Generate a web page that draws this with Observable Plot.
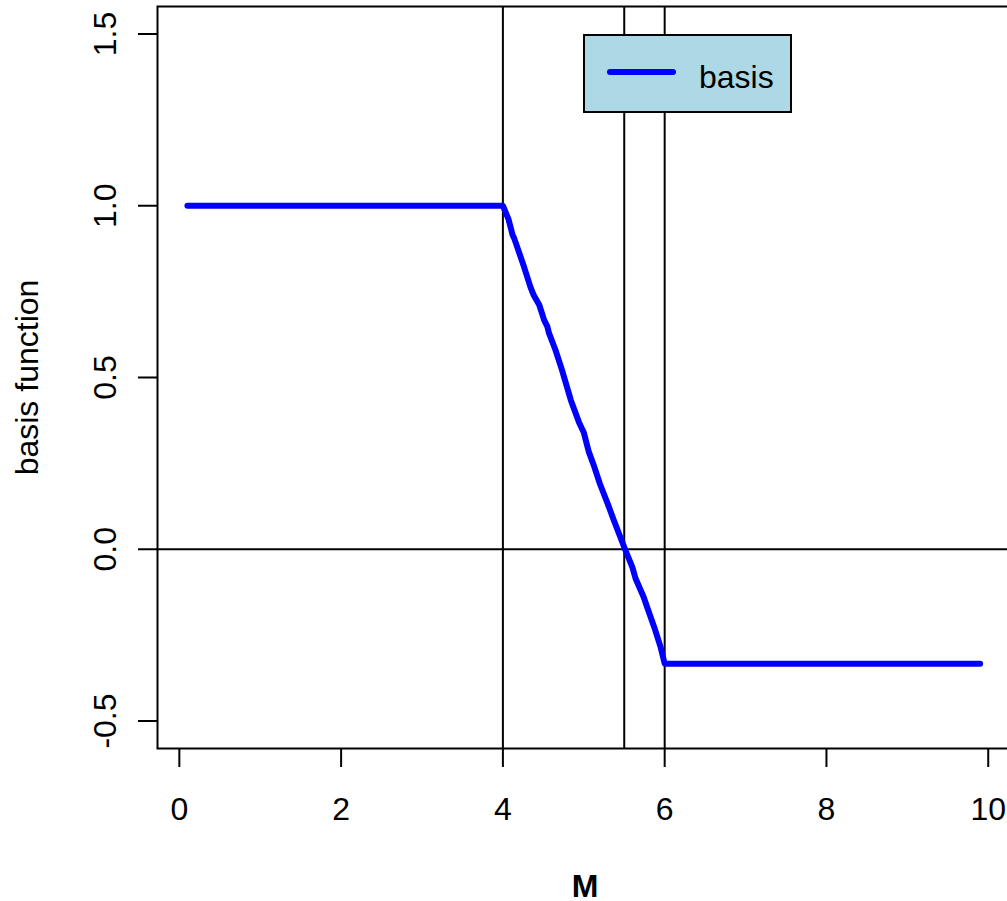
<!DOCTYPE html>
<html><head><meta charset="utf-8">
<script src="https://cdn.jsdelivr.net/npm/d3@7"></script>
<script src="https://cdn.jsdelivr.net/npm/@observablehq/plot@0.6"></script>
<style>html,body{margin:0;padding:0;overflow:hidden;background:#fff;width:1007px;height:901px}
#chart svg{max-width:none !important;}</style>
</head><body><div id="chart"></div>
<script>
// basis function samples
const xVals = [0.1, 4.0, 4.07, 4.12, 4.14, 4.26, 4.34, 4.38, 4.45, 4.51, 4.55, 4.57, 4.65, 4.73, 4.84, 4.94, 5.0, 5.06, 5.13, 5.2, 5.3, 5.37, 5.51, 5.6, 5.64, 5.74, 5.79, 5.87, 5.95, 6.0, 9.9];
const yVals = [1, 1, 0.96, 0.915, 0.905, 0.823, 0.764, 0.74, 0.711, 0.667, 0.648, 0.629, 0.58, 0.522, 0.434, 0.37, 0.34, 0.285, 0.24, 0.19, 0.13, 0.085, 0, -0.052, -0.085, -0.139, -0.173, -0.226, -0.285, -0.333, -0.333];
const knots = [4, 5.5, 6];
const hLines = [0];
const xTicks = [0, 2, 4, 6, 8, 10];
const xTickLabels = ["0", "2", "4", "6", "8", "10"];
const yTicks = [-0.5, 0, 0.5, 1, 1.5];
const yTickLabels = ["-0.5", "0.0", "0.5", "1.0", "1.5"];
const legendLabels = ["basis"];
const xLabel = "M";
const yLabel = "basis function";

const data = xVals.map((x, i) => ({x, y: yVals[i]}));
const FONT = "'Liberation Sans', Arial, Helvetica, sans-serif";

const chart = Plot.plot({
  width: 1015, height: 901,
  marginLeft: 157, marginRight: 3, marginTop: 6, marginBottom: 153,
  style: {fontFamily: FONT, fontSize: "32px", background: "#fff", color: "#000", maxWidth: "none"},
  x: {domain: [-0.27, 10.3]},
  y: {domain: [-0.58, 1.58]},
  marks: [
    Plot.ruleX(knots, {stroke: "#000", strokeWidth: 2}),
    Plot.ruleY(hLines, {stroke: "#000", strokeWidth: 2}),
    Plot.line(data, {x: "x", y: "y", stroke: "#0000FF", strokeWidth: 6, strokeLinecap: "round", strokeLinejoin: "round"}),
    Plot.frame({stroke: "#000", strokeWidth: 2}),
    Plot.axisX({ticks: xTicks, tickSize: 19, tickPadding: 30, fontSize: 32, strokeWidth: 2,
      tickFormat: d => xTickLabels[xTicks.indexOf(d)], label: null}),
    Plot.axisY({ticks: yTicks, tickSize: 19, strokeWidth: 2, tickFormat: () => "", label: null}),
    Plot.text(yTicks, {y: d => d, text: (d, i) => yTickLabels[i], frameAnchor: "left", dx: -42,
      rotate: -90, lineAnchor: "bottom", textAnchor: "middle", fontSize: 32}),
    Plot.text([yLabel], {text: d => d, frameAnchor: "left", dx: -120, rotate: -90,
      lineAnchor: "bottom", textAnchor: "middle", fontSize: 32}),
    Plot.text([xLabel], {text: d => d, frameAnchor: "bottom", dy: 148, lineAnchor: "bottom",
      textAnchor: "middle", fontSize: 32, fontWeight: "bold"})
  ]
});
chart.style.maxWidth = "none";
document.getElementById("chart").appendChild(chart);

// legend (layout box, top-right inside the plot)
const svg = d3.select(chart);
const lg = svg.append("g").attr("text-anchor", "start");
lg.append("rect").attr("x", 584).attr("y", 35).attr("width", 207).attr("height", 77)
  .attr("fill", "#ADD8E6").attr("stroke", "#000").attr("stroke-width", 2);
legendLabels.forEach((lab, i) => {
  const yy = 72 + i * 40;
  lg.append("line").attr("x1", 610).attr("x2", 673).attr("y1", yy).attr("y2", yy)
    .attr("stroke", "#0000FF").attr("stroke-width", 6).attr("stroke-linecap", "round");
  lg.append("text").attr("x", 699).attr("y", yy + 16).attr("font-size", 32)
    .attr("text-anchor", "start").attr("font-family", FONT).attr("fill", "#000").text(lab);
});
</script>
</body></html>
